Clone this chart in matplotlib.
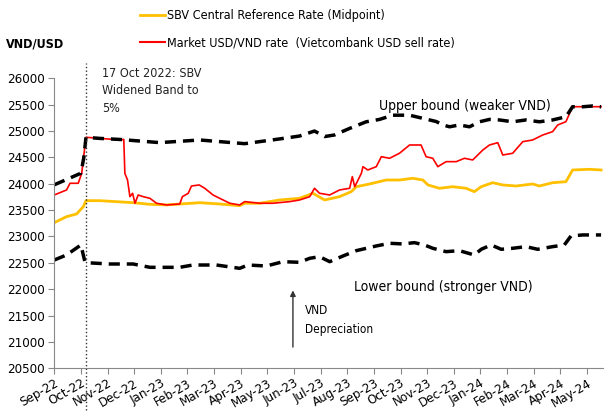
import matplotlib
matplotlib.use("Agg")
import matplotlib.pyplot as plt
from matplotlib.lines import Line2D

plt.rcParams['font.family'] = ['DejaVu Sans']
plt.rcParams['font.stretch'] = 'condensed'
plt.rcParams['font.size'] = 9

# x positions are in months counted from the Sep-22 tick
month_labels = ['Sep-22', 'Oct-22', 'Nov-22', 'Dec-22', 'Jan-23', 'Feb-23', 'Mar-23',
                'Apr-23', 'May-23', 'Jun-23', 'Jul-23', 'Aug-23', 'Sep-23', 'Oct-23',
                'Nov-23', 'Dec-23', 'Jan-24', 'Feb-24', 'Mar-24', 'Apr-24', 'May-24']

upper_x = [0, 0.46, 1.0, 1.11, 1.19, 1.71, 2.46, 3.96, 5.46, 7.15, 8.46, 9.21, 9.77, 10.15,
           10.52, 11.09, 11.71, 12.21, 12.71, 13.34, 13.84, 14.34, 14.59, 14.84, 15.21, 15.59,
           15.96, 16.34, 16.71, 17.21, 17.71, 18.21, 18.71, 19.21, 19.46, 19.84, 20.21, 20.53]
upper_y = [23980, 24080, 24200, 24500, 24880, 24860, 24840, 24780, 24830, 24760, 24850, 24905,
           25000, 24895, 24925, 25050, 25175, 25220, 25300, 25300, 25240, 25180, 25115, 25080,
           25115, 25080, 25175, 25220, 25210, 25175, 25210, 25175, 25210, 25270, 25460, 25460,
           25475, 25460]

lower_x = [0, 0.46, 1.0, 1.15, 1.19, 2.09, 2.96, 3.59, 4.71, 5.21, 6.09, 6.96, 7.27, 7.96,
           8.59, 9.21, 9.59, 9.96, 10.34, 10.84, 11.34, 12.09, 12.59, 13.09, 13.52, 13.9, 14.21,
           14.71, 15.21, 15.77, 16.03, 16.4, 16.78, 17.21, 17.71, 18.15, 18.71, 19.15, 19.4,
           19.84, 20.53]
lower_y = [22554, 22649, 22839, 22520, 22503, 22478, 22478, 22415, 22415, 22459, 22459, 22396,
           22459, 22440, 22522, 22510, 22586, 22617, 22522, 22630, 22731, 22820, 22871, 22858,
           22883, 22839, 22776, 22712, 22731, 22649, 22757, 22839, 22757, 22776, 22807, 22757,
           22807, 22839, 23010, 23029, 23029]

mid_x = [0, 0.46, 0.84, 1.09, 1.19, 1.71, 2.96, 3.59, 4.21, 5.46, 6.21, 6.96, 7.15, 7.71, 8.46,
         9.21, 9.71, 10.15, 10.71, 11.15, 11.34, 11.84, 12.46, 12.96, 13.46, 13.84, 14.03, 14.46,
         14.96, 15.46, 15.77, 16.03, 16.46, 16.84, 17.34, 17.96, 18.21, 18.71, 19.21, 19.46,
         20.09, 20.53]
mid_y = [23262, 23376, 23427, 23566, 23679, 23679, 23641, 23610, 23598, 23641, 23616, 23584,
         23630, 23630, 23692, 23724, 23819, 23692, 23755, 23850, 23944, 23996, 24071, 24071,
         24103, 24071, 23977, 23914, 23944, 23914, 23850, 23944, 24020, 23977, 23957, 23996,
         23957, 24020, 24039, 24261, 24274, 24261]

market_x = [0, 0.46, 0.59, 0.9, 1.03, 1.19, 1.71, 2.46, 2.61, 2.65, 2.75, 2.84, 2.94, 3.03, 3.15,
            3.34, 3.59, 3.84, 4.21, 4.71, 4.81, 5.03, 5.15, 5.44, 5.65, 5.96, 6.21, 6.59, 6.96,
            7.15, 7.71, 8.21, 8.84, 9.21, 9.59, 9.77, 9.96, 10.34, 10.71, 11.09, 11.19, 11.28,
            11.53, 11.59, 11.77, 12.09, 12.28, 12.59, 12.96, 13.34, 13.77, 13.96, 14.21, 14.40,
            14.71, 15.09, 15.40, 15.71, 16.09, 16.34, 16.65, 16.84, 17.21, 17.59, 17.96, 18.34,
            18.71, 18.90, 19.21, 19.46, 19.84, 20.53]
market_y = [23787, 23882, 24009, 24009, 24198, 24881, 24862, 24830, 24840, 24198, 24071, 23755,
            23819, 23630, 23787, 23755, 23724, 23630, 23598, 23616, 23755, 23819, 23957, 23977,
            23914, 23787, 23724, 23630, 23598, 23661, 23630, 23630, 23661, 23692, 23755, 23914,
            23819, 23787, 23882, 23914, 24134, 23944, 24198, 24324, 24261, 24324, 24513, 24483,
            24578, 24735, 24735, 24513, 24483, 24324, 24419, 24419, 24483, 24451, 24640, 24735,
            24779, 24545, 24578, 24798, 24830, 24925, 24988, 25114, 25177, 25461, 25461, 25461]

band_change = 1.19

fig = plt.figure(figsize=(6.14, 4.2), dpi=100)
ax = fig.add_axes([0.0884, 0.1231, 0.8936, 0.6905])

ax.plot(mid_x, mid_y, color='#FFC000', lw=2)
ax.plot(market_x, market_y, color='#FF0000', lw=1.2)
ax.plot(upper_x, upper_y, color='black', lw=2.5, dashes=(3.2, 2))
ax.plot(lower_x, lower_y, color='black', lw=2.5, dashes=(3.2, 2))

ax.axvline(band_change, ymin=-0.144, ymax=1.053, clip_on=False, color='#333333', lw=1, ls=':')

ax.set_xlim(0, 20.6)
ax.set_ylim(20500, 26000)
ax.set_yticks(range(20500, 26001, 500))
ax.set_xticks(range(len(month_labels)))
ax.set_xticklabels(month_labels, rotation=30, ha='right', rotation_mode='anchor')
ax.tick_params(axis='both', direction='out', length=4, color='#888888', labelsize=9.5)
ax.tick_params(axis='x', pad=2)
ax.tick_params(axis='y', pad=3)
for s in ['top', 'right']:
    ax.spines[s].set_visible(False)
for s in ['left', 'bottom']:
    ax.spines[s].set_color('#888888')

fig.text(0.01, 0.895, 'VND/USD', fontsize=9, fontweight='bold', va='center')
ax.text(1.78, 26220, '17 Oct 2022: SBV\nWidened Band to\n5%', va='top', ha='left',
        fontsize=9, linespacing=1.45, color='#222222')
ax.text(15.42, 25480, 'Upper bound (weaker VND)', ha='center', va='center', fontsize=10)
ax.text(14.59, 22040, 'Lower bound (stronger VND)', ha='center', va='center', fontsize=10)
ax.text(9.4, 21415, 'VND\nDepreciation', ha='left', va='center', fontsize=8.5, linespacing=1.6)
ax.annotate('', xy=(8.96, 22030), xytext=(8.96, 20850),
            arrowprops=dict(arrowstyle='-|>', color='#333333', lw=1, mutation_scale=8))

handles = [Line2D([], [], color='#FFC000', lw=2),
           Line2D([], [], color='#FF0000', lw=1.5)]
fig.legend(handles, ['SBV Central Reference Rate (Midpoint)',
                     'Market USD/VND rate  (Vietcombank USD sell rate)'],
           loc='upper left', bbox_to_anchor=(0.212, 1.0), frameon=False, fontsize=9,
           handlelength=2.0, handletextpad=0.2, labelspacing=1.1, borderaxespad=0.35)

fig.savefig('out.png', dpi=100)
